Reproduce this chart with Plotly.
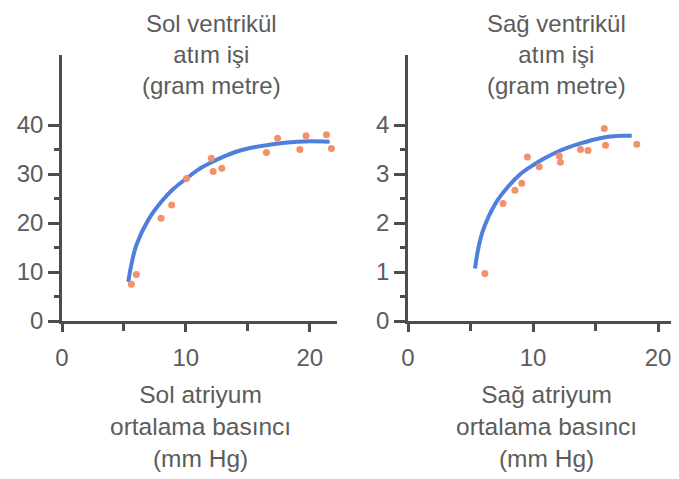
import plotly.graph_objects as go

# Left ventricle: stroke work (gram metre) vs left atrial mean pressure (mm Hg)
left_pts_x = [5.6, 6.0, 8.0, 8.85, 10.05, 12.05, 12.2, 12.9, 16.5, 17.4, 19.2, 19.7, 21.35, 21.75]
left_pts_y = [7.5, 9.5, 21.0, 23.7, 29.1, 33.2, 30.5, 31.2, 34.4, 37.3, 35.0, 37.8, 38.0, 35.2]
left_curve_x = [5.35, 5.6, 6.0, 7.0, 8.0, 9.0, 10.0, 11.0, 12.0, 13.0, 14.0, 15.0, 16.0, 17.0, 18.0, 19.0, 20.0, 21.6]
left_curve_y = [8.0, 11.5, 15.5, 20.8, 24.3, 27.0, 29.0, 30.9, 32.3, 33.5, 34.5, 35.2, 35.7, 36.1, 36.4, 36.6, 36.7, 36.6]

# Right ventricle: stroke work (gram metre) vs right atrial mean pressure (mm Hg)
right_pts_x = [6.15, 7.6, 8.55, 9.1, 9.55, 10.5, 12.1, 12.2, 13.8, 14.4, 15.7, 15.8, 18.3]
right_pts_y = [0.97, 2.40, 2.67, 2.81, 3.35, 3.15, 3.37, 3.24, 3.50, 3.48, 3.93, 3.59, 3.61]
right_curve_x = [5.36, 5.6, 6.0, 7.0, 8.0, 9.0, 10.0, 11.0, 12.0, 13.0, 14.0, 15.0, 16.0, 17.0, 17.9]
right_curve_y = [1.07, 1.45, 1.85, 2.4, 2.74, 3.0, 3.18, 3.33, 3.46, 3.56, 3.64, 3.71, 3.76, 3.78, 3.78]

left_yticks = [0, 10, 20, 30, 40]
left_yminor = [5, 15, 25, 35]
right_yticks = [0, 1, 2, 3, 4]
right_yminor = [0.5, 1.5, 2.5, 3.5]
xticks = [0, 10, 20]
xminor = [5, 15]

left_title = "Sol ventrikül<br>atım işi<br>(gram metre)"
right_title = "Sağ ventrikül<br>atım işi<br>(gram metre)"
left_xtitle = "Sol atriyum<br>ortalama basıncı<br>(mm Hg)"
right_xtitle = "Sağ atriyum<br>ortalama basıncı<br>(mm Hg)"

# page body has an 8px default margin; figure is sized to fit the window
OFF = 8
W, H = 679 - OFF, 479 - OFF
TXT = "#5c5c5c"
AX = "#4d4d4d"
DOT = "#f2916a"
LINE = "#4f7fdc"
FONT = "Liberation Sans, Arial, sans-serif"


def fx(p):
    return (p - OFF) / W


def fy(p):
    return 1 - (p - OFF) / H


fig = go.Figure()
fig.add_trace(go.Scatter(x=left_curve_x, y=left_curve_y, mode="lines", line=dict(color=LINE, width=4, shape="spline"),
                         xaxis="x", yaxis="y", showlegend=False))
fig.add_trace(go.Scatter(x=left_pts_x, y=left_pts_y, mode="markers", marker=dict(color=DOT, size=7),
                         xaxis="x", yaxis="y", showlegend=False))
fig.add_trace(go.Scatter(x=right_curve_x, y=right_curve_y, mode="lines", line=dict(color=LINE, width=4, shape="spline"),
                         xaxis="x2", yaxis="y2", showlegend=False))
fig.add_trace(go.Scatter(x=right_pts_x, y=right_pts_y, mode="markers", marker=dict(color=DOT, size=7),
                         xaxis="x2", yaxis="y2", showlegend=False))

ydom = [fy(321), fy(55)]

common_x = dict(showline=True, linecolor=AX, linewidth=2.5, ticks="outside", ticklen=8, tickwidth=2.5,
                tickcolor=AX, showgrid=False, zeroline=False, tickvals=xticks, automargin=False,
                ticklabelstandoff=5,
                tickfont=dict(size=24, color=TXT, family=FONT),
                minor=dict(ticks="outside", ticklen=7, tickwidth=2.5, tickcolor=AX, tickvals=xminor, showgrid=False))
common_y = dict(showline=True, linecolor=AX, linewidth=2.5, ticks="outside", ticklen=11, tickwidth=2.5,
                tickcolor=AX, showgrid=False, zeroline=False, automargin=False,
                tickfont=dict(size=24, color=TXT, family=FONT))

fig.update_layout(
    width=W, height=H,
    margin=dict(l=0, r=0, t=0, b=0),
    paper_bgcolor="white", plot_bgcolor="white",
    font=dict(family=FONT, color=TXT),
    xaxis=dict(domain=[fx(62), fx(337)], range=[0, 22.2], anchor="y", **common_x),
    yaxis=dict(domain=ydom, range=[0, 54.3], anchor="x", tickvals=left_yticks,
               minor=dict(ticks="outside", ticklen=5, tickwidth=2.5, tickcolor=AX, tickvals=left_yminor, showgrid=False),
               **common_y),
    xaxis2=dict(domain=[fx(408), min(1.0, fx(678))], range=[0, 21.6], anchor="y2", **common_x),
    yaxis2=dict(domain=ydom, range=[0, 5.43], anchor="x2", tickvals=right_yticks,
                minor=dict(ticks="outside", ticklen=5, tickwidth=2.5, tickcolor=AX, tickvals=right_yminor, showgrid=False),
                **common_y),
)

annos = [
    (left_title, 211, 55, 24),
    (right_title, 556, 55, 24),
    (left_xtitle, 200, 426, 24.5),
    (right_xtitle, 546, 426, 24.5),
]
for text, px, py, fs in annos:
    fig.add_annotation(text=text, x=fx(px), y=fy(py), xref="paper", yref="paper",
                       xanchor="center", yanchor="middle", showarrow=False, align="center",
                       font=dict(size=fs, color=TXT, family=FONT))

fig.write_html("out.html")
